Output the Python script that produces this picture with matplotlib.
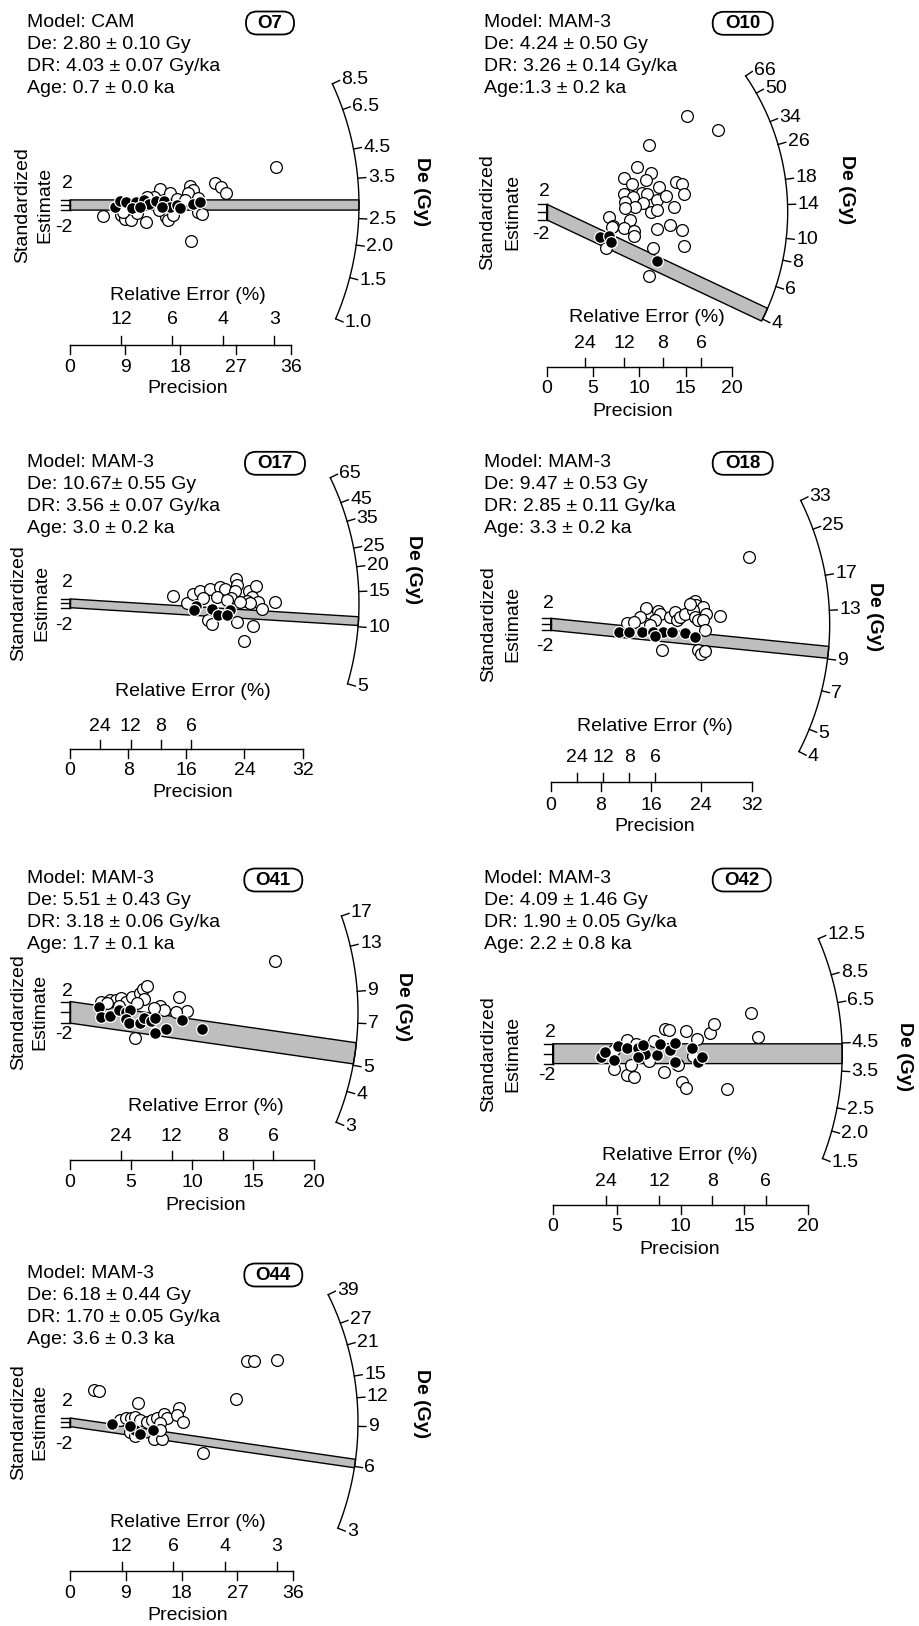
import numpy as np
import matplotlib
matplotlib.use('Agg')
import matplotlib.pyplot as plt
from matplotlib import font_manager
from matplotlib.transforms import Affine2D
from matplotlib.patches import FancyBboxPatch

# ---------------- DATA ----------------
# O7
O7_open_prec = [5.4, 8.4, 9.0, 9.9, 12.4, 14.7, 16.3, 13.7, 15.7, 16.0, 19.6, 20.1, 19.2, 20.8, 23.6, 24.6,
                25.4, 19.8, 20.9, 14.5, 16.8, 8.7, 12.5, 33.6, 11.0, 17.5, 18.8, 21.5]
O7_open_std = [-4.3, -4.0, -5.3, -6.0, -6.7, 6.3, 4.7, 3.3, -4.7, -5.7, 7.3, 6.0, 4.9, 2.7, 8.7, 6.9,
               4.7, -14.0, -2.7, -2.0, -4.0, -2.7, 3.3, 14.9, -3.0, 2.5, 2.0, -3.5]
O7_fill_prec = [7.3, 8.2, 9.2, 10.8, 10.1, 12.0, 12.9, 14.1, 15.3, 16.3, 17.4, 18.0, 20.1, 21.2, 11.4, 15.0]
O7_fill_std = [-0.9, 1.7, 1.3, 1.3, -1.3, 2.0, 0.4, 1.6, 1.7, -0.9, 0.0, -1.3, 0.4, 1.1, -0.7, -0.7]
O7_arc = [1.0, 1.5, 2.0, 2.5, 3.5, 4.5, 6.5, 8.5]
O7_arc_labels = ['1.0', '1.5', '2.0', '2.5', '3.5', '4.5', '6.5', '8.5']
O7_prec_ticks = [0, 9, 18, 27, 36]
O7_rel_ticks = [12, 6, 4, 3]
O7_centre = 2.80
O7_De = 2.80
O7_text = ['Model: CAM', 'De: 2.80 \u00b1 0.10 Gy', 'DR: 4.03 \u00b1 0.07 Gy/ka', 'Age: 0.7 \u00b1 0.0 ka']

# O10
O10_open_prec = [15.1, 18.5, 11.0, 9.7, 11.2, 8.3, 9.2, 10.7, 12.1, 8.3, 10.3, 10.8, 9.3, 8.5, 11.9, 12.9,
                 14.0, 14.6, 14.8, 13.7, 10.4, 9.5, 8.5, 11.2, 11.9, 6.7, 9.0, 7.2, 8.3, 9.4, 9.4, 13.3,
                 14.6, 11.9, 14.8, 11.5, 6.4, 11.0, 7.0]
O10_open_std = [24.7, 20.9, 17.3, 11.6, 10.1, 8.8, 7.2, 8.2, 6.5, 4.7, 4.8, 4.7, 3.8, 2.6, 3.0, 4.0,
                7.6, 7.2, 4.7, 1.3, 2.2, 1.2, 0.9, 0.1, 0.5, -1.2, -2.0, -3.7, -4.1, -4.9, -6.2, -3.3,
                -4.5, -4.3, -8.7, -9.3, -9.3, -16.4, -3.9]
O10_fill_prec = [5.8, 6.7, 6.9, 11.9]
O10_fill_std = [-6.3, -6.2, -7.8, -12.6]
O10_arc = [4, 6, 8, 10, 14, 18, 26, 34, 50, 66]
O10_arc_labels = ['4', '6', '8', '10', '14', '18', '26', '34', '50', '66']
O10_prec_ticks = [0, 5, 10, 15, 20]
O10_rel_ticks = [24, 12, 8, 6]
O10_centre = 13.0
O10_De = 4.24
O10_text = ['Model: MAM-3', 'De: 4.24 \u00b1 0.50 Gy', 'DR: 3.26 \u00b1 0.14 Gy/ka', 'Age:1.3 \u00b1 0.2 ka']

# O17
O17_open_prec = [14.2, 16.1, 16.9, 17.9, 19.3, 20.6, 21.3, 22.8, 23.0, 22.7, 22.2, 24.6, 25.6, 25.0, 25.9,
                 26.4, 28.2, 24.3, 24.8, 23.4, 19.0, 19.5, 23.0, 25.2, 24.0, 20.2, 18.3, 21.6]
O17_open_std = [3.4, 0.0, 4.3, 5.4, 6.5, 7.4, 6.5, 11.1, 8.5, 5.8, 2.3, 5.4, 7.7, 3.1, 0.8,
                -2.8, 0.8, 1.2, 0.0, 0.8, -7.7, -9.5, -8.5, -10.5, -17.2, 3.1, 2.3, 1.5]
O17_fill_prec = [17.4, 17.0, 19.5, 20.4, 22.0, 21.6]
O17_fill_std = [-1.2, -3.1, -2.8, -5.4, -3.1, -5.4]
O17_arc = [5, 10, 15, 20, 25, 35, 45, 65]
O17_arc_labels = ['5', '10', '15', '20', '25', '35', '45', '65']
O17_prec_ticks = [0, 8, 16, 24, 32]
O17_rel_ticks = [24, 12, 8, 6]
O17_centre = 13.1
O17_De = 10.67
O17_text = ['Model: MAM-3', 'De: 10.67\u00b1 0.55 Gy', 'DR: 3.56 \u00b1 0.07 Gy/ka', 'Age: 3.0 \u00b1 0.2 ka']

# O18
O18_open_prec = [12.1, 15.2, 17.1, 17.4, 16.6, 19.0, 19.8, 20.1, 20.6, 21.4, 22.5, 23.0, 23.2, 24.3, 22.7,
                 23.0, 23.5, 24.8, 27.0, 24.3, 24.6, 17.7, 23.5, 24.0, 24.6, 14.8, 15.8, 14.2, 31.5, 13.2, 22.2]
O18_open_std = [0.5, 5.5, 4.4, 3.6, 1.6, 2.3, 4.1, 1.4, 2.3, 3.6, 7.0, 7.7, 6.3, 5.7, 4.7,
                2.5, 1.4, 3.4, 2.7, 1.4, -1.8, -8.5, -8.5, -10.0, -8.9, 0.5, -0.2, 2.5, 22.3, 0.8, 6.8]
O18_fill_prec = [10.8, 12.4, 14.5, 16.3, 17.9, 19.3, 21.4, 23.0, 16.6]
O18_fill_std = [-2.6, -2.4, -2.6, -2.6, -2.4, -2.6, -2.9, -4.2, -4.0]
O18_arc = [4, 5, 7, 9, 13, 17, 25, 33]
O18_arc_labels = ['4', '5', '7', '9', '13', '17', '25', '33']
O18_prec_ticks = [0, 8, 16, 24, 32]
O18_rel_ticks = [24, 12, 8, 6]
O18_centre = 11.7
O18_De = 9.47
O18_text = ['Model: MAM-3', 'De: 9.47 \u00b1 0.53 Gy', 'DR: 2.85 \u00b1 0.11 Gy/ka', 'Age: 3.3 \u00b1 0.2 ka']

# O41
O41_open_prec = [2.5, 3.3, 3.8, 4.2, 4.6, 5.1, 5.7, 6.0, 6.3, 6.1, 5.5, 7.4, 7.7, 8.9, 9.6, 8.7, 5.3,
                 3.0, 16.8, 4.0, 6.9]
O41_open_std = [2.0, 2.2, 2.3, 2.6, 2.0, 2.9, 3.6, 4.4, 4.8, 2.4, 1.7, 1.2, 0.4, 2.8, 0.3, 0.1, -4.8,
                1.7, 9.5, 1.2, 0.8]
O41_fill_prec = [2.4, 2.5, 3.3, 4.0, 4.6, 4.9, 4.6, 4.8, 5.7, 6.1, 6.6, 7.0, 7.0, 7.9, 9.2, 10.8]
O41_fill_std = [0.9, -0.8, -0.6, 0.4, 0.1, 0.4, -1.3, -2.0, -1.9, -1.1, -1.7, -1.1, -3.9, -3.0, -1.4, -3.0]
O41_arc = [3, 4, 5, 7, 9, 13, 17]
O41_arc_labels = ['3', '4', '5', '7', '9', '13', '17']
O41_prec_ticks = [0, 5, 10, 15, 20]
O41_rel_ticks = [24, 12, 8, 6]
O41_centre = 7.63
O41_De = 5.51
O41_text = ['Model: MAM-3', 'De: 5.51 \u00b1 0.43 Gy', 'DR: 3.18 \u00b1 0.06 Gy/ka', 'Age: 1.7 \u00b1 0.1 ka']

# O42
O42_open_prec = [4.8, 5.8, 4.8, 5.8, 6.4, 6.1, 7.9, 8.8, 9.1, 8.7, 9.7, 10.4, 11.3, 12.3, 12.6, 10.1,
                 10.4, 13.6, 9.8, 15.5, 16.1, 6.5, 7.5, 11.0]
O42_open_std = [0.8, 2.8, -3.0, -4.4, -4.8, -2.3, 2.5, 4.9, 4.8, -3.7, -2.0, 4.6, 3.0, 4.2, 5.9, -5.8,
                -7.0, -7.2, -2.3, 8.2, 3.4, 2.0, -1.5, -0.5]
O42_fill_prec = [3.8, 4.1, 4.8, 5.1, 5.8, 6.7, 7.2, 7.1, 8.2, 8.4, 9.2, 9.6, 9.6, 10.9, 11.4, 11.7, 6.7]
O42_fill_std = [-0.6, 0.4, -1.3, 1.6, 1.1, 1.1, -0.1, 1.8, -0.3, 2.0, 0.8, 2.1, -1.7, 1.1, -1.7, -0.6, -0.6]
O42_arc = [1.5, 2.0, 2.5, 3.5, 4.5, 6.5, 8.5, 12.5]
O42_arc_labels = ['1.5', '2.0', '2.5', '3.5', '4.5', '6.5', '8.5', '12.5']
O42_prec_ticks = [0, 5, 10, 15, 20]
O42_rel_ticks = [24, 12, 8, 6]
O42_centre = 4.09
O42_De = 4.09
O42_text = ['Model: MAM-3', 'De: 4.09 \u00b1 1.46 Gy', 'DR: 1.90 \u00b1 0.05 Gy/ka', 'Age: 2.2 \u00b1 0.8 ka']

# O44
O44_open_prec = [3.9, 4.6, 10.9, 8.1, 9.1, 9.9, 10.5, 11.3, 12.4, 13.2, 14.0, 15.1, 15.6, 14.5, 17.5,
                 17.2, 18.3, 9.7, 10.5, 13.5, 14.9, 21.4, 26.8, 28.5, 29.6, 33.4, 14.5]
O44_open_std = [15.1, 14.4, 8.9, 1.0, 2.2, 1.8, 2.5, 1.0, 0.3, 1.0, 1.8, 4.0, 1.8, -0.4, 6.5,
                3.3, 0.0, -4.6, -6.4, -7.9, -7.9, -14.1, 10.7, 28.4, 28.7, 29.0, -3.4]
O44_fill_prec = [6.7, 10.5, 11.3, 13.4, 9.7]
O44_fill_std = [-0.9, -3.4, -5.6, -3.4, -1.9]
O44_arc = [3, 6, 9, 12, 15, 21, 27, 39]
O44_arc_labels = ['3', '6', '9', '12', '15', '21', '27', '39']
O44_prec_ticks = [0, 9, 18, 27, 36]
O44_rel_ticks = [12, 6, 4, 3]
O44_centre = 9.38
O44_De = 6.18
O44_text = ['Model: MAM-3', 'De: 6.18 \u00b1 0.44 Gy', 'DR: 1.70 \u00b1 0.05 Gy/ka', 'Age: 3.6 \u00b1 0.3 ka']

# ---------------- LAYOUT (pixels, top-down) ----------------
LAYOUT = {
    'O7':  dict(box=(0, 0, 459, 420), ox=70, oy=205, sx=6.13, sy=2.55, R=289,
                axy=345, rel_lab=320, rel_title=295, tick_lab=367, prec_title=388, rel_x=188, prec_x=188,
                txt=(27, 26.7), tag=(270, 23, 48), slab=(23, 45), delab=(421.7, 191.7)),
    'O10': dict(box=(459, 0, 919, 420), ox=546.7, oy=212, sx=9.27, sy=3.9, R=241,
                axy=366.7, rel_lab=343, rel_title=318, tick_lab=388, prec_title=411.7, rel_x=646.7, prec_x=633,
                txt=(484, 26.7), tag=(742.7, 23.3, 60), slab=(488, 512.7), delab=(846.7, 190)),
    'O17': dict(box=(0, 420, 459, 840), ox=70, oy=603.3, sx=7.27, sy=2.19, R=289,
                axy=749.3, rel_lab=726, rel_title=691.7, tick_lab=770, prec_title=792.7, rel_x=193, prec_x=193,
                txt=(26.7, 466.7), tag=(275, 463.3, 60), slab=(18.3, 41.7), delab=(413.3, 570)),
    'O18': dict(box=(459, 420, 919, 840), ox=550.7, oy=624.3, sx=6.28, sy=3.0, R=279,
                axy=781.7, rel_lab=757.3, rel_title=726, tick_lab=805, prec_title=826.7, rel_x=655, prec_x=655,
                txt=(484, 466.7), tag=(742.7, 463.3, 60), slab=(488.3, 512.7), delab=(875, 616.7)),
    'O41': dict(box=(0, 840, 459, 1250), ox=70, oy=1012.3, sx=12.2, sy=5.4, R=288,
                axy=1160, rel_lab=1136.7, rel_title=1106.7, tick_lab=1182.7, prec_title=1205.7, rel_x=205.7, prec_x=205.7,
                txt=(26.7, 882.7), tag=(273.3, 880, 58), slab=(18.3, 40), delab=(403.3, 1006.7)),
    'O42': dict(box=(459, 840, 919, 1250), ox=552.7, oy=1053.7, sx=12.78, sy=4.95, R=289.5,
                axy=1205, rel_lab=1181.7, rel_title=1155, tick_lab=1226.7, prec_title=1249, rel_x=680, prec_x=680,
                txt=(484, 882.7), tag=(741.7, 880, 58), slab=(488.3, 513.3), delab=(905, 1056.7)),
    'O44': dict(box=(0, 1250, 459, 1626), ox=70, oy=1422.3, sx=6.2, sy=2.15, R=288,
                axy=1570.7, rel_lab=1546.7, rel_title=1522.7, tick_lab=1593.3, prec_title=1615, rel_x=188, prec_x=188,
                txt=(26.7, 1277.7), tag=(273.3, 1275, 58), slab=(18.3, 40), delab=(421.7, 1403.3)),
}

W, H = 919, 1626
fig = plt.figure(figsize=(W / 100, H / 100), dpi=100)
fig.patch.set_facecolor('white')
FIG_PX = Affine2D().scale(1.0 / W, -1.0 / H).translate(0, 1) + fig.transFigure

names = {f.name for f in font_manager.fontManager.ttflist}
if 'Liberation Sans Narrow' in names:
    FAM = ['Liberation Sans Narrow', 'DejaVu Sans']
    FS = 15.5
else:
    FAM = ['Liberation Sans', 'DejaVu Sans']
    FS = 14
TAGFAM = ['Liberation Sans', 'DejaVu Sans']
plt.rcParams['font.family'] = FAM


def draw_panel(name, open_p, open_s, fill_p, fill_s, arc_vals, arc_labels,
               prec_ticks, rel_ticks, centre, de, lines):
    L = LAYOUT[name]
    x0, y0, x1, y1 = L['box']
    ox, oy, sx, sy, R = L['ox'], L['oy'], L['sx'], L['sy'], L['R']
    ax = fig.add_axes([x0 / W, 1 - y1 / H, (x1 - x0) / W, (y1 - y0) / H])
    ax.set_xlim((x0 - ox) / sx, (x1 - ox) / sx)
    ax.set_ylim((oy - y1) / sy, (oy - y0) / sy)
    ax.axis('off')

    z0 = np.log(centre)
    m = np.log(de) - z0
    k = sy / sx

    # 2-sigma band to the arc
    def hit(c):
        a = sx ** 2 + (sy * m) ** 2
        b = 2 * sy ** 2 * m * c
        cc = (sy * c) ** 2 - R ** 2
        return (-b + np.sqrt(b * b - 4 * a * cc)) / (2 * a)
    xu, xl = hit(2.0), hit(-2.0)
    tu = np.arctan2(sy * (m * xu + 2), sx * xu)
    tl = np.arctan2(sy * (m * xl - 2), sx * xl)
    tt = np.linspace(tu, tl, 30)
    bx = np.concatenate([[0, 0], R * np.cos(tt) / sx])
    by = np.concatenate([[-2, 2], R * np.sin(tt) / sy])
    ax.fill(bx, by, facecolor='#bebebe', edgecolor='black', lw=1.0, zorder=1)

    # y axis ticks at -2, 0, 2
    ax.plot([0, 0], [-2, 2], color='black', lw=1.0, zorder=2)
    for v in (-2, 0, 2):
        ax.plot([-9 / sx, 0], [v, v], color='black', lw=1.0, zorder=2)
    ax.annotate('2', xy=(0, 0), xytext=(3, 21), textcoords='offset pixels',
                ha='right', va='center', fontsize=FS)
    ax.annotate('-2', xy=(0, 0), xytext=(3, -22), textcoords='offset pixels',
                ha='right', va='center', fontsize=FS)

    # arc (De axis)
    th = np.arctan(k * (np.log(arc_vals) - z0))
    ta = np.linspace(th.min(), th.max(), 300)
    ax.plot(R * np.cos(ta) / sx, R * np.sin(ta) / sy, color='black', lw=1.0)
    for t, lab in zip(th, arc_labels):
        ax.plot([R * np.cos(t) / sx, (R + 8) * np.cos(t) / sx],
                [R * np.sin(t) / sy, (R + 8) * np.sin(t) / sy], color='black', lw=1.0)
        ax.text((R + 10) * np.cos(t) / sx, (R + 10) * np.sin(t) / sy, lab,
                ha='left', va='center', fontsize=FS)

    # precision / relative error axis
    ya = (oy - L['axy']) / sy
    ax.plot([0, max(prec_ticks)], [ya, ya], color='black', lw=1.0)
    for p in prec_ticks:
        ax.plot([p, p], [ya, ya - 9 / sy], color='black', lw=1.0)
        ax.text(p, (oy - L['tick_lab']) / sy, str(p), ha='center', va='center', fontsize=FS)
    for r in rel_ticks:
        p = 100.0 / r
        ax.plot([p, p], [ya, ya + 9 / sy], color='black', lw=1.0)
        ax.text(p, (oy - L['rel_lab']) / sy, str(r), ha='center', va='center', fontsize=FS)
    ax.text(L['rel_x'], L['rel_title'], 'Relative Error (%)', transform=FIG_PX,
            ha='center', va='center', fontsize=FS)
    ax.text(L['prec_x'], L['prec_title'], 'Precision', transform=FIG_PX,
            ha='center', va='center', fontsize=FS)

    # data points
    ax.scatter(open_p, open_s, s=72, facecolor='white', edgecolor='black',
               linewidths=0.9, zorder=3, clip_on=False)
    ax.scatter(fill_p, fill_s, s=72, facecolor='black', edgecolor='white',
               linewidths=0.9, zorder=4, clip_on=False)

    # labels
    sx1, sx2 = L['slab']
    ax.text(sx1, oy, 'Standardized', transform=FIG_PX, rotation=90,
            ha='center', va='center', fontsize=FS)
    ax.text(sx2, oy, 'Estimate', transform=FIG_PX, rotation=90,
            ha='center', va='center', fontsize=FS)
    dx, dy = L['delab']
    ax.text(dx, dy, 'De (Gy)', transform=FIG_PX, rotation=270, ha='center', va='center',
            fontsize=FS, fontweight='bold')

    tx, ty = L['txt']
    for i, s in enumerate(lines):
        ax.text(tx, ty + i * 22.2, s, transform=FIG_PX, ha='left', va='baseline', fontsize=FS)

    cx, cy, bw = L['tag']
    bh = 23
    box = FancyBboxPatch((cx - bw / 2, cy - bh / 2), bw, bh,
                         boxstyle='round,pad=0,rounding_size=11', transform=FIG_PX,
                         facecolor='white', edgecolor='black', lw=1.3)
    fig.add_artist(box)
    fig.text(cx, cy, name, transform=FIG_PX, ha='center', va='center',
             fontsize=13.5, fontweight='bold', family=TAGFAM)


draw_panel('O7', O7_open_prec, O7_open_std, O7_fill_prec, O7_fill_std, O7_arc, O7_arc_labels,
           O7_prec_ticks, O7_rel_ticks, O7_centre, O7_De, O7_text)
draw_panel('O10', O10_open_prec, O10_open_std, O10_fill_prec, O10_fill_std, O10_arc, O10_arc_labels,
           O10_prec_ticks, O10_rel_ticks, O10_centre, O10_De, O10_text)
draw_panel('O17', O17_open_prec, O17_open_std, O17_fill_prec, O17_fill_std, O17_arc, O17_arc_labels,
           O17_prec_ticks, O17_rel_ticks, O17_centre, O17_De, O17_text)
draw_panel('O18', O18_open_prec, O18_open_std, O18_fill_prec, O18_fill_std, O18_arc, O18_arc_labels,
           O18_prec_ticks, O18_rel_ticks, O18_centre, O18_De, O18_text)
draw_panel('O41', O41_open_prec, O41_open_std, O41_fill_prec, O41_fill_std, O41_arc, O41_arc_labels,
           O41_prec_ticks, O41_rel_ticks, O41_centre, O41_De, O41_text)
draw_panel('O42', O42_open_prec, O42_open_std, O42_fill_prec, O42_fill_std, O42_arc, O42_arc_labels,
           O42_prec_ticks, O42_rel_ticks, O42_centre, O42_De, O42_text)
draw_panel('O44', O44_open_prec, O44_open_std, O44_fill_prec, O44_fill_std, O44_arc, O44_arc_labels,
           O44_prec_ticks, O44_rel_ticks, O44_centre, O44_De, O44_text)

fig.savefig('out.png', dpi=100, facecolor='white')
